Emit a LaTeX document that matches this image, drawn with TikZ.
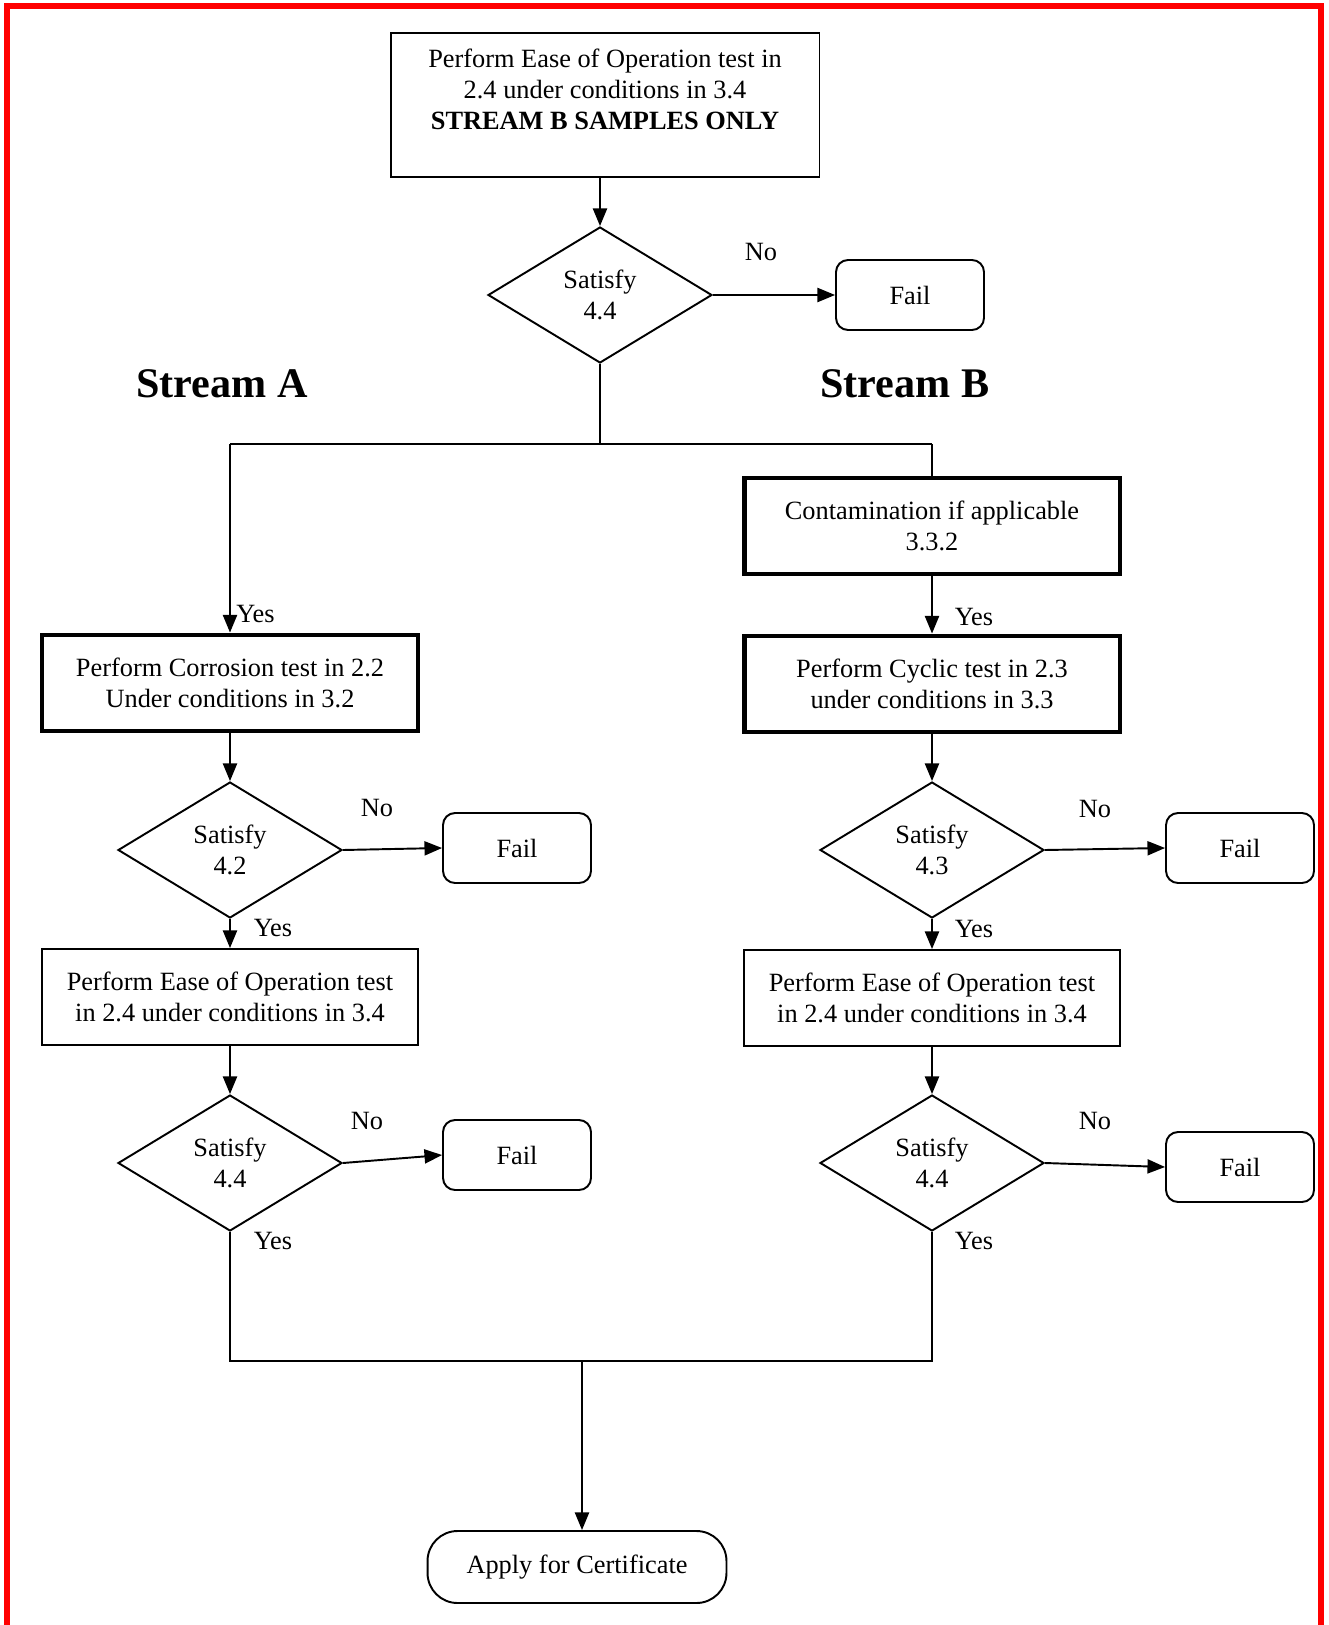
\documentclass[tikz,border=0pt]{standalone}
\usepackage{fontspec}
\setmainfont{Liberation Serif}
\usepackage{tikz}
\usetikzlibrary{shapes.geometric,arrows.meta,positioning,calc}

\tikzset{
  box/.style={draw,line width=1.1pt,align=center,minimum width=7.52cm,minimum height=1.92cm,inner sep=2pt},
  thickbox/.style={box,line width=2.8pt},
  decision/.style={draw,diamond,line width=1.1pt,align=center,minimum width=4.48cm,minimum height=2.72cm,inner sep=0pt},
  failbox/.style={draw,rounded corners=0.24cm,line width=1.1pt,minimum width=2.96cm,minimum height=1.4cm},
  arr/.style={line width=1.1pt,-{Triangle[length=10pt,width=8pt]}},
  line/.style={line width=1.1pt},
  lbl/.style={inner sep=0pt},
}

\begin{document}
\begin{tikzpicture}[x=0.02cm,y=-0.02cm,font=\fontsize{15}{17.6}\selectfont]
    \useasboundingbox (0,0) rectangle (1328,1625);
    % Frame
    \draw[red,line width=3.4pt] (7,1640) -- (7,6) -- (1321,6) -- (1321,1640);

    % Start
    \node[box,minimum width=8.58cm,minimum height=2.88cm] (top) at (605,105)
        {Perform Ease of Operation test in\\ 2.4 under conditions in 3.4\\ \textbf{STREAM B SAMPLES ONLY}\\ \mbox{}};
    \node[decision] (dia1) at (600,295) {Satisfy\\ 4.4};
    \node[failbox] (fail1) at (910,295) {Fail};
    \node[lbl] (no1) at (761,252) {No};

    % Stream titles
    \node[lbl,font=\fontsize{24}{28}\selectfont\bfseries] (streamA) at (222,384) {Stream A};
    \node[lbl,font=\fontsize{24}{28}\selectfont\bfseries] (streamB) at (905,384) {Stream B};

    \coordinate (jA) at (230,444);
    \coordinate (jB) at (932,444);

    % Stream A
    \node[thickbox] (corr) at (230,683) {Perform Corrosion test in 2.2\\ Under conditions in 3.2};
    \node[decision] (dia2) at (230,850) {Satisfy\\ 4.2};
    \node[failbox] (fail2) at (517,848) {Fail};
    \node[box] (easeA) at (230,997) {Perform Ease of Operation test\\ in 2.4 under conditions in 3.4};
    \node[decision] (dia3) at (230,1163) {Satisfy\\ 4.4};
    \node[failbox] (fail3) at (517,1155) {Fail};

    % Stream B
    \node[thickbox] (cont) at (932,526) {Contamination if applicable\\ 3.3.2};
    \node[thickbox] (cyc) at (932,684) {Perform Cyclic test in 2.3\\ under conditions in 3.3};
    \node[decision] (dia4) at (932,850) {Satisfy\\ 4.3};
    \node[failbox] (fail4) at (1240,848) {Fail};
    \node[box] (easeB) at (932,998) {Perform Ease of Operation test\\ in 2.4 under conditions in 3.4};
    \node[decision] (dia5) at (932,1163) {Satisfy\\ 4.4};
    \node[failbox] (fail5) at (1240,1167) {Fail};

    % Labels
    \node[lbl,anchor=west] (yes1) at (236,614) {Yes};
    \node[lbl] (yes2) at (974,617) {Yes};
    \node[lbl] (yes3) at (273,928) {Yes};
    \node[lbl] (yes4) at (974,929) {Yes};
    \node[lbl] (yes5) at (273,1241) {Yes};
    \node[lbl] (yes6) at (974,1241) {Yes};
    \node[lbl] (no2) at (377,808) {No};
    \node[lbl] (no3) at (367,1121) {No};
    \node[lbl] (no4) at (1095,809) {No};
    \node[lbl] (no5) at (1095,1121) {No};

    % End
    \node[draw,line width=1.1pt,rounded corners=0.6cm,minimum width=5.98cm,minimum height=1.44cm] (cert) at (577,1567) {Apply for Certificate};
    \coordinate (jC) at (230,1361);
    \coordinate (jD) at (932,1361);
    \coordinate (jE) at (582,1361);

    % Connectors
    \draw[arr] (dia1.north |- top.south) -- (dia1.north);
    \draw[arr] (dia1.east) -- (fail1.west);
    \draw[line] (dia1.south) -- (dia1.south |- jA);
    \draw[line] (jA) -- (jB);
    \draw[arr] (jA) -- (corr.north);
    \draw[line] (jB) -- (cont.north);
    \draw[arr] (cont.south) -- (cyc.north);

    \draw[arr] (corr.south) -- (dia2.north);
    \draw[arr] (dia2.east) -- (fail2.west);
    \draw[arr] (dia2.south) -- (easeA.north);
    \draw[arr] (easeA.south) -- (dia3.north);
    \draw[arr] (dia3.east) -- (fail3.west);

    \draw[arr] (cyc.south) -- (dia4.north);
    \draw[arr] (dia4.east) -- (fail4.west);
    \draw[arr] (dia4.south) -- (easeB.north);
    \draw[arr] (easeB.south) -- (dia5.north);
    \draw[arr] (dia5.east) -- (fail5.west);

    \draw[line] (dia3.south) -- (jC) -- (jD) -- (dia5.south);
    \draw[arr] (jE) -- (jE |- cert.north);
\end{tikzpicture}
\end{document}
